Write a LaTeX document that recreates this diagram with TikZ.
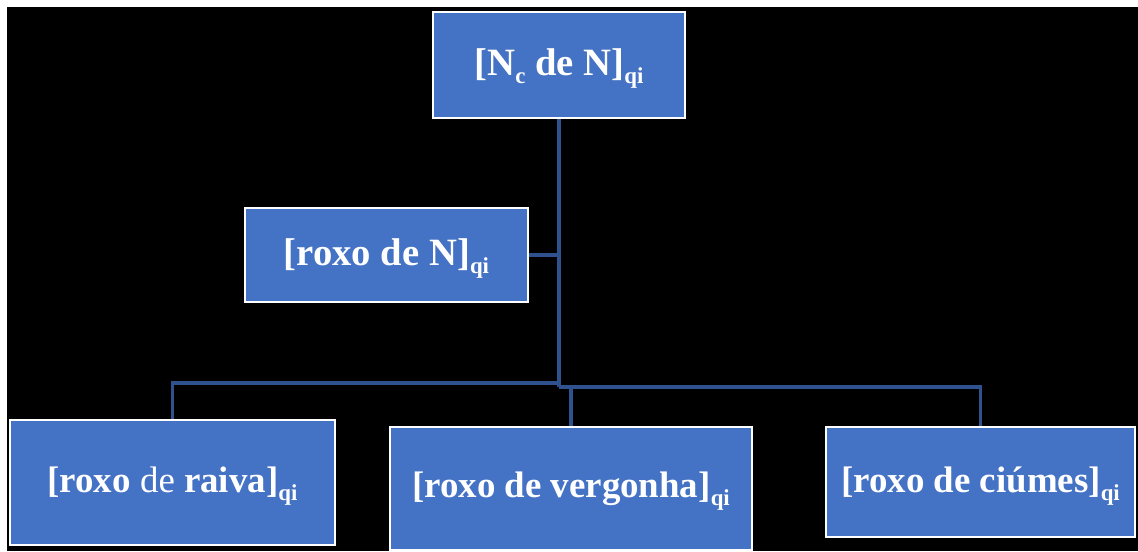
\documentclass[tikz,border=0pt]{standalone}
\usepackage{fontspec}
\setmainfont{Liberation Serif}
\usepackage{xcolor}
\usepackage{tikz}
\usetikzlibrary{positioning, calc}

\definecolor{boxblue}{HTML}{4472C4}
\definecolor{linkblue}{HTML}{2F528F}
\newcommand{\lowtxt}[1]{\raisebox{-4.5pt}[0pt][0pt]{\fontsize{13}{13}\selectfont #1}}

\tikzset{
    catbox/.style = {draw = white, line width = 0.8pt, fill = boxblue,
    rectangle, text = white, inner sep = 0pt,
    font = \fontsize{22}{26}\selectfont\bfseries},
    leafbox/.style = {catbox, font = \fontsize{21}{25}\selectfont\bfseries},
    link/.style = {-, draw = linkblue, line width = 1.9pt}
}

\begin{document}
\begin{tikzpicture}[x = 0.02cm, y = -0.02cm]
        \useasboundingbox (0,0) rectangle (1138,551);
        \fill [white] (0,0) rectangle (1138,551);
        \fill [black] (7,7) rectangle (1138,551);
        \node [catbox, minimum width = 5.04 cm, minimum height = 2.12 cm]
        (Nc) at (559,65) {[N\lowtxt{c} de N]\lowtxt{qi}} ;
        \node [catbox, minimum width = 5.66 cm, minimum height = 1.88 cm]
        (roxoN) at (386.5,255) {[roxo de N]\lowtxt{qi}} ;
        \node [leafbox, minimum width = 6.5 cm, minimum height = 2.5 cm]
        (raiva) at (172.5,482.5) {[roxo {\mdseries de} raiva]\lowtxt{qi}} ;
        \node [leafbox, minimum width = 7.24 cm, minimum height = 2.46 cm]
        (vergonha) at (571,488.5) {[roxo de vergonha]\lowtxt{qi}} ;
        \node [leafbox, minimum width = 6.18 cm, minimum height = 2.2 cm]
        (ciumes) at (980.5,482) {[roxo de ciúmes]\lowtxt{qi}} ;
        \coordinate (lhub) at (559,383) ;
        \coordinate (rhub) at (559,387) ;
        \draw [link] (Nc.south) -- (rhub) ;
        \draw [link] (roxoN.east) -- (roxoN.east -| Nc.south) ;
        \draw [link] (lhub) -| (raiva.north) ;
        \draw [link] (rhub) -| (ciumes.north) ;
        \draw [link] (vergonha.north) -- (vergonha.north |- rhub) ;
    \end{tikzpicture}
\end{document}
